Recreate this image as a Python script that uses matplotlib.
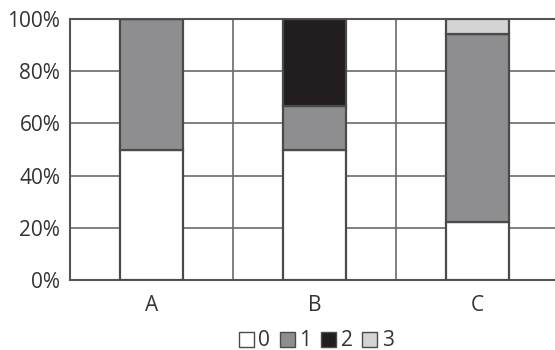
import matplotlib
matplotlib.use("Agg")
import matplotlib.pyplot as plt
from matplotlib.patches import Patch
import numpy as np

categories = ["A", "B", "C"]
series_names = ["0", "1", "2", "3"]
s0 = [50.0, 50.0, 22.2]
s1 = [50.0, 16.7, 72.2]
s2 = [0.0, 33.3, 0.0]
s3 = [0.0, 0.0, 5.6]
yticks = [0, 20, 40, 60, 80, 100]
ytick_labels = ["0%", "20%", "40%", "60%", "80%", "100%"]

colors = ["#ffffff", "#8e8e90", "#221e1f", "#d4d4d4"]
edge = "#4a4a4a"
grid_c = "#6a6a6a"
text_c = "#333333"

plt.rcParams["font.family"] = ["Open Sans", "DejaVu Sans"]

fig = plt.figure(figsize=(5.55, 3.5), dpi=100)
ax = fig.add_axes([70 / 555, 70 / 350, 485 / 555, 261 / 350])

x = np.arange(len(categories))
bottom = np.zeros(len(categories))
for vals, c in zip([s0, s1, s2, s3], colors):
    vals = np.array(vals)
    ax.bar(x, vals, width=0.385, bottom=bottom, color=c, edgecolor=edge,
           linewidth=1.6, zorder=3)
    bottom += vals

ax.set_xlim(-0.5, 2.475)
ax.set_ylim(0, 100)
ax.set_yticks(yticks)
ax.set_yticklabels(ytick_labels)
ax.set_xticks(x)
ax.set_xticklabels(categories)

# gridlines
for yv in yticks[1:]:
    ax.axhline(yv, color=grid_c, linewidth=1.2, zorder=1)
for xv in [0.5, 1.5]:
    ax.axvline(xv, color=grid_c, linewidth=1.2, zorder=1)

for s in ["right"]:
    ax.spines[s].set_visible(False)
for s in ["left", "bottom", "top"]:
    ax.spines[s].set_color("#555555")
    ax.spines[s].set_linewidth(1.5)
ax.tick_params(axis="both", length=0, labelsize=15, colors=text_c)
ax.tick_params(axis="y", pad=7)
ax.tick_params(axis="x", pad=11)

handles = [Patch(facecolor=c, edgecolor=edge, linewidth=1.0) for c in colors]
fig.legend(handles, series_names, loc="center", bbox_to_anchor=(316 / 555, 9 / 350),
           ncol=4, frameon=False, fontsize=15, handlelength=0.75, handleheight=0.75,
           handletextpad=0.2, columnspacing=0.45, labelcolor=text_c)

fig.savefig("out.png", dpi=100)
